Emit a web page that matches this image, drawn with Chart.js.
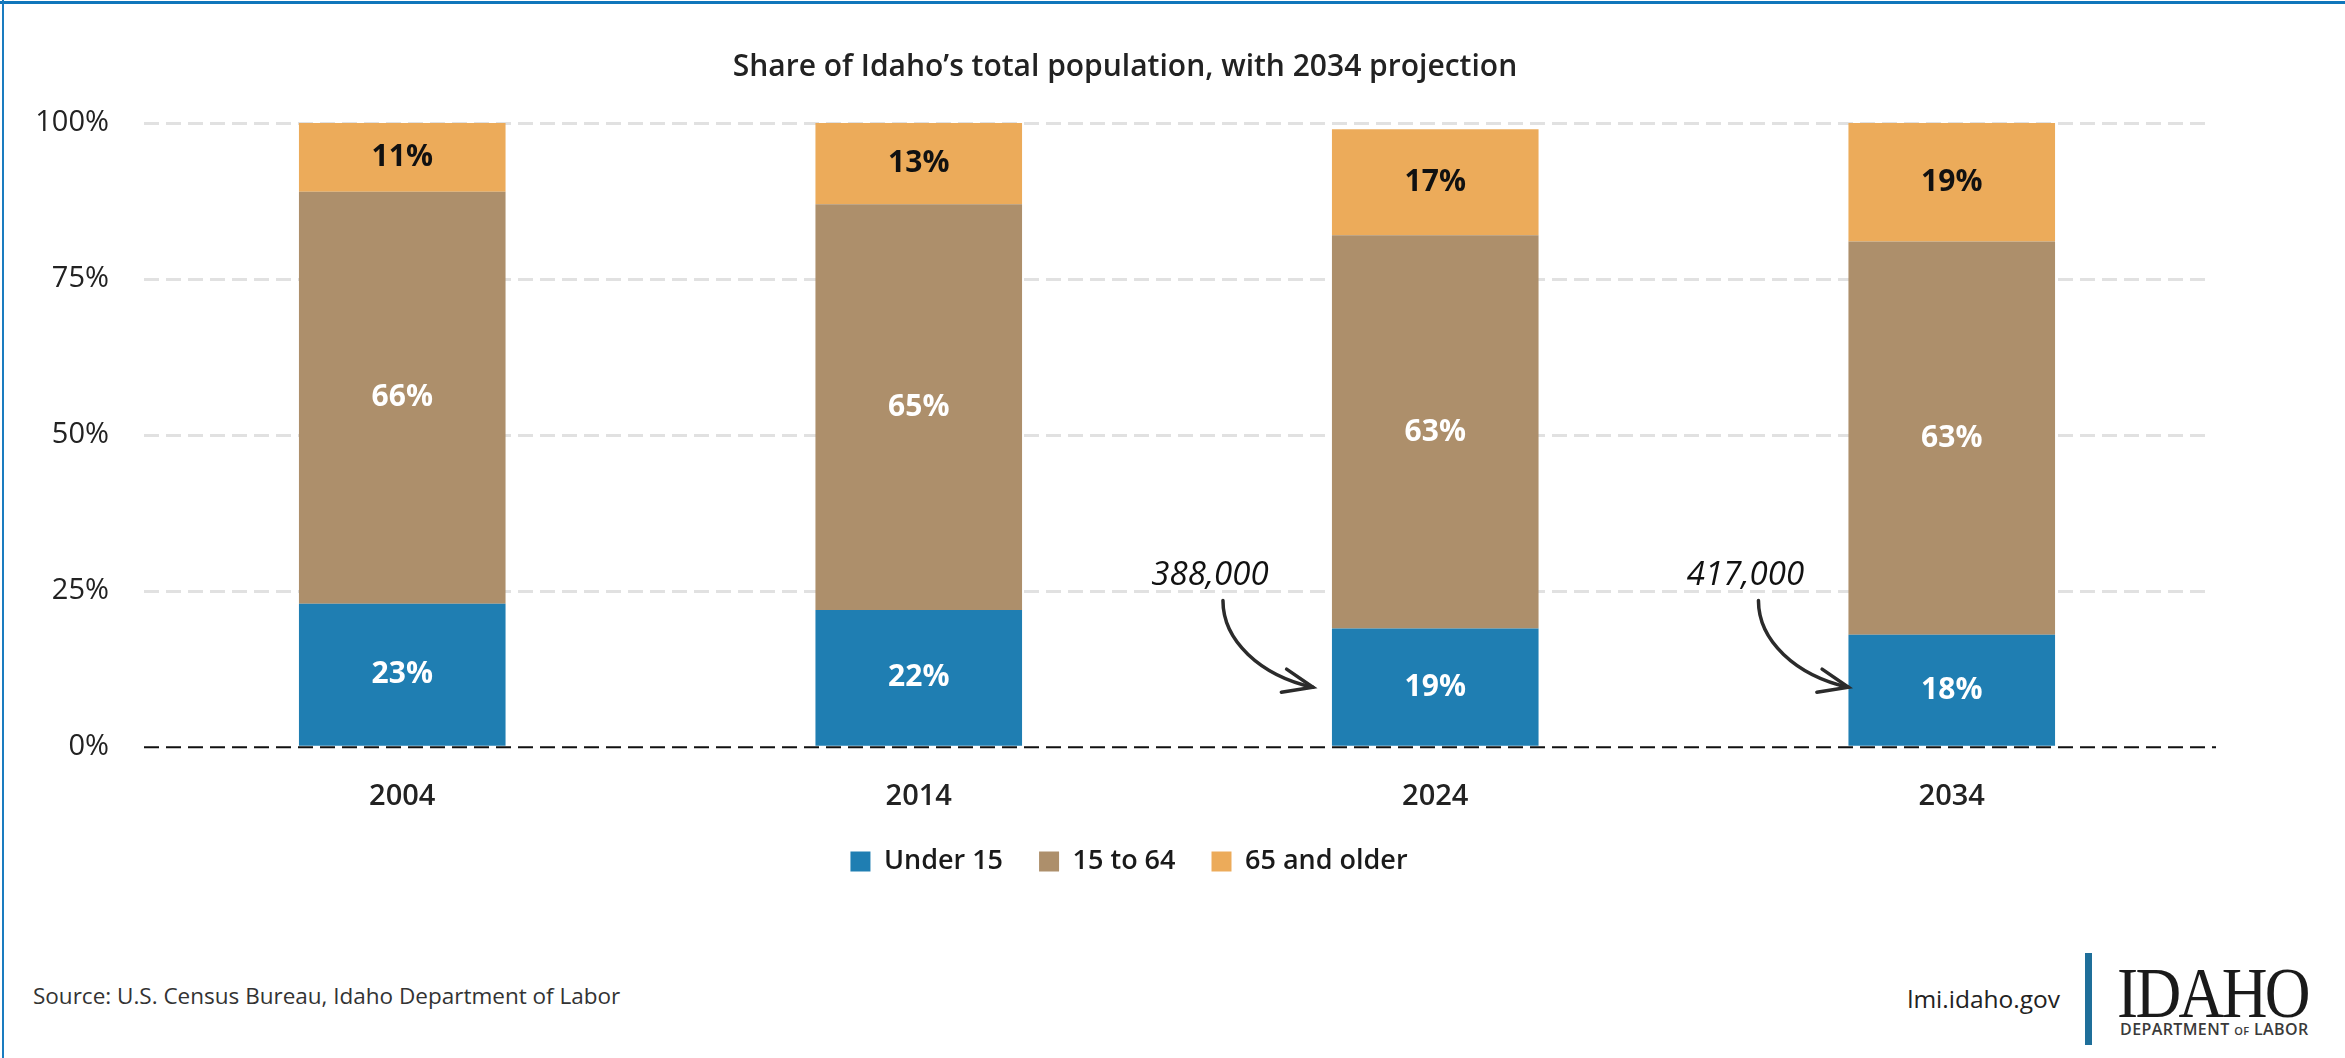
<!DOCTYPE html>
<html>
<head>
<meta charset="utf-8">
<title>Share of Idaho's total population</title>
<script src="https://cdn.jsdelivr.net/npm/chart.js@4.4.1/dist/chart.umd.min.js"></script>
<style>
  html, body { margin: 0; padding: 0; background: #fff; }
  body { width: 2345px; height: 1058px; position: relative; overflow: hidden; font-family: "Open Sans", sans-serif; }
  .top-rule { position: absolute; left: 0; top: 1px; width: 2345px; height: 3px; background: #1076bb; }
  .left-rule { position: absolute; left: 2px; top: 0; width: 2px; height: 1058px; background: #1a7cc0; }
  #chart { position: absolute; left: 0; top: 0; }
  .source { position: absolute; left: 33px; top: 985px; font-size: 22.5px; line-height: 22.5px; color: #333; white-space: nowrap; }
  .site { position: absolute; right: 285px; top: 987px; font-size: 24.5px; line-height: 24.5px; color: #222; font-weight: 500; white-space: nowrap; }
  .divider { position: absolute; left: 2085px; top: 953px; width: 7px; height: 92px; background: #1f6f9a; }
  .logo-main { position: absolute; left: 2117px; top: 957px; font-family: "Liberation Serif", serif; font-size: 72px; line-height: 72px;
               color: #1a1a1a; letter-spacing: -3px; transform: scaleX(0.88); transform-origin: left top; white-space: nowrap; }
  .logo-sub { position: absolute; left: 2120px; top: 1021px; font-size: 16px; line-height: 16px; font-weight: 600; color: #3a3a3a; white-space: nowrap; letter-spacing: 0.4px; }
  .logo-sub small { font-size: 11px; }
</style>
</head>
<body>
<div class="top-rule"></div>
<div class="left-rule"></div>
<canvas id="chart" width="2256" height="924"></canvas>
<div class="source">Source: U.S. Census Bureau, Idaho Department of Labor</div>
<div class="site">lmi.idaho.gov</div>
<div class="divider"></div>
<div class="logo-main">IDAHO</div>
<div class="logo-sub">DEPARTMENT <small>OF</small> LABOR</div>
<script>
const years = ['2004', '2014', '2024', '2034'];
const under15 = [23, 22, 19, 18];
const age15to64 = [66, 65, 63, 63];
const age65plus = [11, 13, 17, 19];
const yTicks = [0, 25, 50, 75, 100];
const calloutYears = ['2024', '2034'];
const calloutText = ['388,000', '417,000'];

Chart.defaults.font.family = "'Open Sans', sans-serif";
Chart.defaults.color = '#222';

// value labels in the middle of each segment
const segmentLabels = {
  id: 'segmentLabels',
  afterDatasetsDraw(chart) {
    const ctx = chart.ctx;
    ctx.save();
    ctx.font = "700 30px 'Open Sans', sans-serif";
    ctx.textAlign = 'center';
    ctx.textBaseline = 'middle';
    chart.data.datasets.forEach((ds, di) => {
      ctx.fillStyle = di === 2 ? '#111' : '#fff';
      chart.getDatasetMeta(di).data.forEach((bar, i) => {
        ctx.fillText(ds.data[i] + '%', bar.x, (bar.y + bar.base) / 2);
      });
    });
    ctx.restore();
  }
};

// dashed black baseline drawn over the bars
const zeroLine = {
  id: 'zeroLine',
  afterDatasetsDraw(chart) {
    const ctx = chart.ctx;
    const y = chart.scales.y.getPixelForValue(0);
    ctx.save();
    ctx.strokeStyle = '#111';
    ctx.lineWidth = 2;
    ctx.setLineDash([15, 7]);
    ctx.beginPath();
    ctx.moveTo(chart.chartArea.left, y);
    ctx.lineTo(chart.chartArea.right + 6, y);
    ctx.stroke();
    ctx.restore();
  }
};

// population callouts with curved arrows
const callouts = {
  id: 'callouts',
  afterDatasetsDraw(chart) {
    const ctx = chart.ctx;
    const ys = chart.scales.y;
    const textOffset = [-122, -103];
    ctx.save();
    calloutYears.forEach((yr, k) => {
      const idx = years.indexOf(yr);
      const bar = chart.getDatasetMeta(0).data[idx];
      const cx = bar.x - bar.width / 2 + textOffset[k];
      ctx.font = "italic 400 33px 'Open Sans', sans-serif";
      ctx.fillStyle = '#111';
      ctx.textAlign = 'center';
      ctx.textBaseline = 'middle';
      ctx.fillText(calloutText[k], cx, ys.getPixelForValue(27.5));

      const sx = cx + 13, sy = ys.getPixelForValue(23.5);
      const ex = sx + 90, ey = ys.getPixelForValue(9.6);
      const c2x = ex - 53, c2y = ey - 12;
      ctx.strokeStyle = '#2b2b2b';
      ctx.lineWidth = 3.5;
      ctx.lineCap = 'round';
      ctx.beginPath();
      ctx.moveTo(sx, sy);
      ctx.bezierCurveTo(sx, sy + 40, c2x, c2y, ex, ey);
      ctx.stroke();
      const ang = Math.atan2(ey - c2y, ex - c2x);
      ctx.beginPath();
      ctx.moveTo(ex + 32 * Math.cos(ang + Math.PI - 0.38), ey + 32 * Math.sin(ang + Math.PI - 0.38));
      ctx.lineTo(ex, ey);
      ctx.lineTo(ex + 32 * Math.cos(ang + Math.PI + 0.38), ey + 32 * Math.sin(ang + Math.PI + 0.38));
      ctx.stroke();
    });
    ctx.restore();
  }
};

// nudge title and legend: centred on the whole graphic, legend sits closer to the axis
const nudgeBlocks = {
  id: 'nudgeBlocks',
  afterLayout(chart) {
    const t = chart.titleBlock, lg = chart.legend;
    t.left += 20; t.right += 20;
    lg.left += 24; lg.right += 24;
    lg.top -= 34; lg.bottom -= 34;
  }
};

new Chart(document.getElementById('chart').getContext('2d'), {
  type: 'bar',
  data: {
    labels: years,
    datasets: [
      { label: 'Under 15', data: under15, backgroundColor: '#1f7eb2' },
      { label: '15 to 64', data: age15to64, backgroundColor: '#ad8f6b' },
      { label: '65 and older', data: age65plus, backgroundColor: '#ecab5a' }
    ]
  },
  options: {
    responsive: false,
    animation: false,
    devicePixelRatio: 1,
    categoryPercentage: 1,
    barPercentage: 0.4,
    layout: { padding: { left: 0, right: 46, top: 0, bottom: 5 } },
    plugins: {
      title: {
        display: true,
        text: 'Share of Idaho\u2019s total population, with 2034 projection',
        font: { size: 30, weight: '600' },
        color: '#222',
        padding: { top: 49, bottom: 38 }
      },
      legend: {
        position: 'bottom',
        labels: {
          boxWidth: 20,
          boxHeight: 20,
          padding: 36,
          color: '#1a1a1a',
          font: { size: 27, weight: '600' }
        }
      },
      tooltip: { enabled: false }
    },
    scales: {
      x: {
        stacked: true,
        grid: { display: false, drawTicks: false },
        border: { display: false },
        ticks: { padding: 32, color: '#222', font: { size: 29, weight: '600' } }
      },
      y: {
        stacked: true,
        min: 0,
        max: 100,
        afterFit(scale) { scale.width = 144; },
        afterBuildTicks(scale) { scale.ticks = yTicks.map(v => ({ value: v })); },
        grid: {
          drawTicks: false,
          lineWidth: 3,
          color: ctx => ctx.tick && ctx.tick.value === 0 ? 'rgba(0,0,0,0)' : '#e1e1e1'
        },
        border: { display: false, dash: [15, 7] },
        ticks: {
          padding: 35,
          color: '#222',
          font: { size: 29, weight: '500' },
          callback: v => v + '%'
        }
      }
    }
  },
  plugins: [segmentLabels, zeroLine, callouts, nudgeBlocks]
});
</script>
</body>
</html>
